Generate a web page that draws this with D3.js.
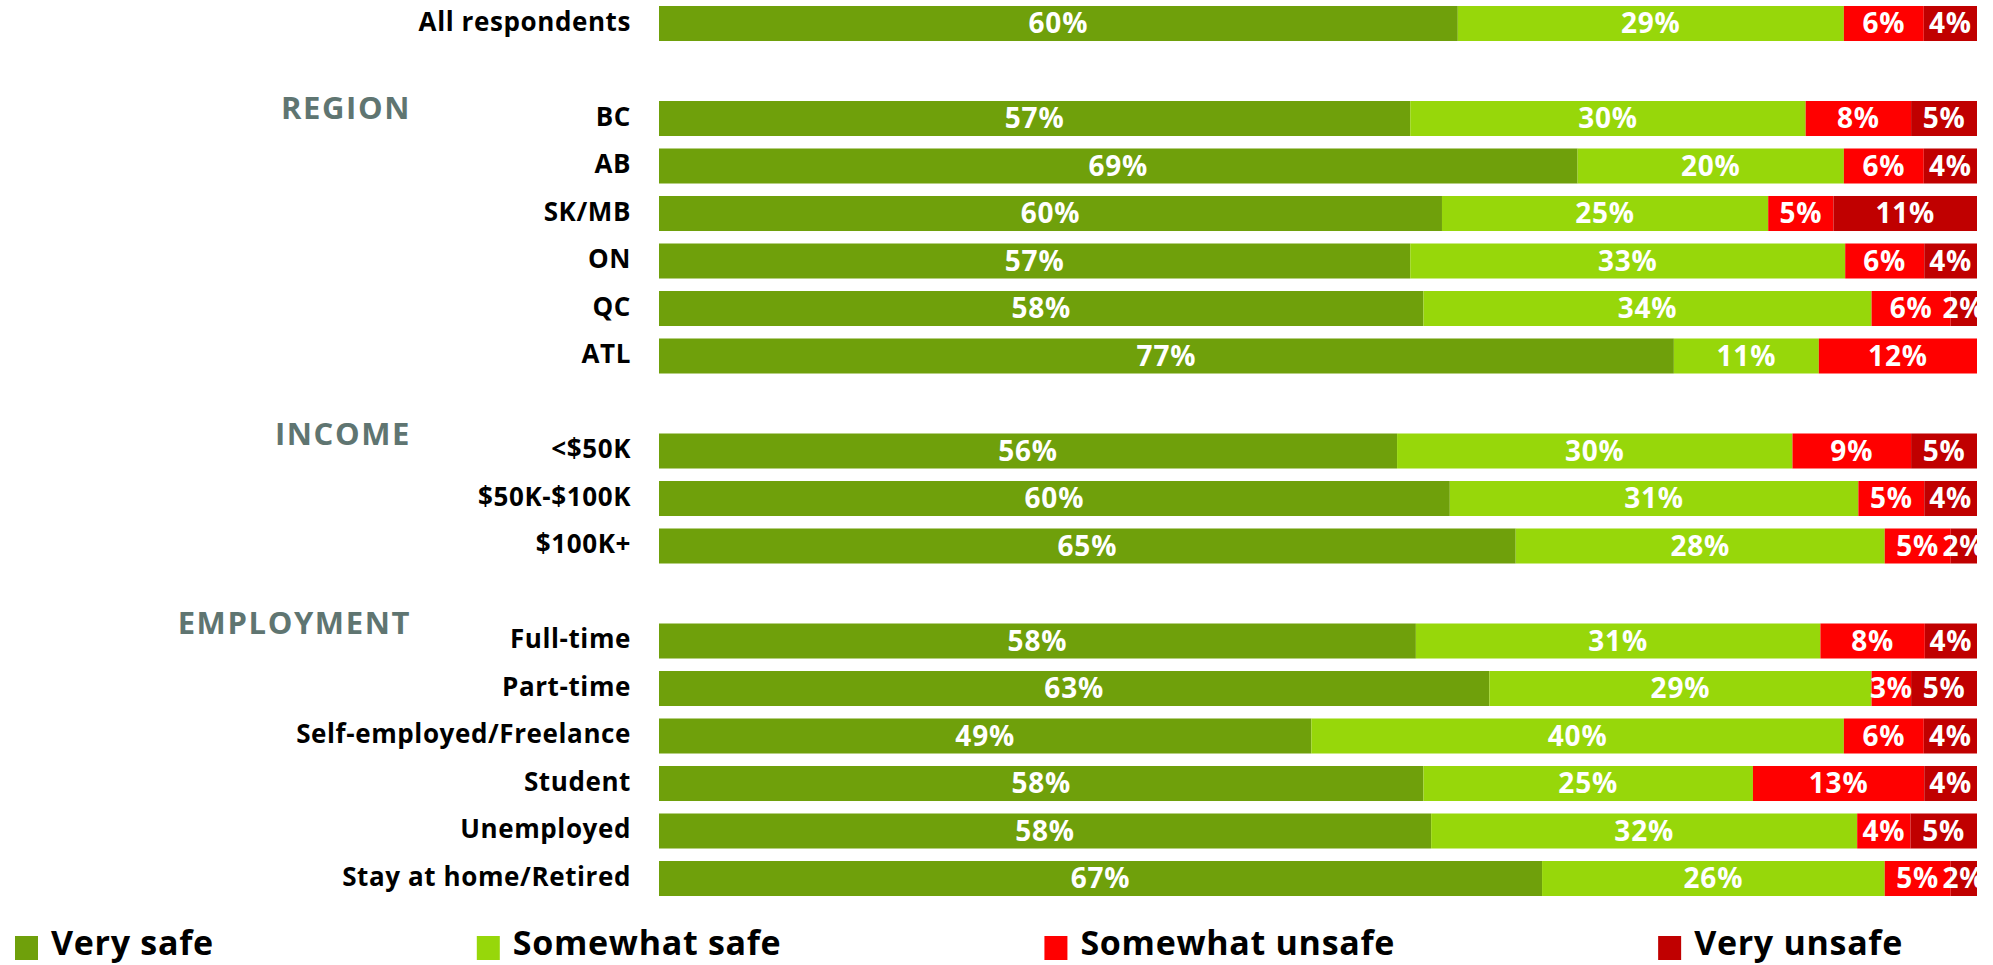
<!DOCTYPE html>
<html>
<head>
<meta charset="utf-8">
<script src="https://cdn.jsdelivr.net/npm/d3@7/dist/d3.min.js"></script>
<style>
  html, body { margin: 0; padding: 0; background: #ffffff; }
  svg { display: block; font-family: "Open Sans", "DejaVu Sans", sans-serif; }
</style>
</head>
<body>
<svg id="chart" width="1993" height="965"></svg>
<script>
// ---------- data ----------
const categories = [
  "All respondents",
  "BC", "AB", "SK/MB", "ON", "QC", "ATL",
  "<$50K", "$50K-$100K", "$100K+",
  "Full-time", "Part-time", "Self-employed/Freelance", "Student", "Unemployed", "Stay at home/Retired"
];
const verySafe       = [60, 57, 69, 60, 57, 58, 77, 56, 60, 65, 58, 63, 49, 58, 58, 67];
const somewhatSafe   = [29, 30, 20, 25, 33, 34, 11, 30, 31, 28, 31, 29, 40, 25, 32, 26];
const somewhatUnsafe = [ 6,  8,  6,  5,  6,  6, 12,  9,  5,  5,  8,  3,  6, 13,  4,  5];
const veryUnsafe     = [ 4,  5,  4, 11,  4,  2,  0,  5,  4,  2,  4,  5,  4,  4,  5,  2];
const seriesNames = ["Very safe", "Somewhat safe", "Somewhat unsafe", "Very unsafe"];
const seriesColors = ["#6fa00b", "#97d70a", "#ff0000", "#c00000"];
const groupHeaders = ["REGION", "INCOME", "EMPLOYMENT"];
const groupFirstRow = ["BC", "<$50K", "Full-time"];
// row layout order (gaps separate the groups)
const layoutOrder = [
  "All respondents", "_gap1",
  "BC", "AB", "SK/MB", "ON", "QC", "ATL", "_gap2",
  "<$50K", "$50K-$100K", "$100K+", "_gap3",
  "Full-time", "Part-time", "Self-employed/Freelance", "Student", "Unemployed", "Stay at home/Retired"
];

// ---------- build table ----------
const keys = ["vs", "ss", "su", "vu"];
const table = categories.map((c, i) => ({
  cat: c, vs: verySafe[i], ss: somewhatSafe[i], su: somewhatUnsafe[i], vu: veryUnsafe[i]
}));

const svg = d3.select("#chart");

const x = d3.scaleLinear().domain([0, 1]).range([659, 1977]);
const y = d3.scaleBand().domain(layoutOrder).range([-0.25, 902.25])
  .paddingInner(0.263).paddingOuter(0.1315);

const stack = d3.stack().keys(keys).offset(d3.stackOffsetExpand);
const stacked = stack(table);

svg.append("defs").append("clipPath").attr("id", "plotclip")
  .append("rect").attr("x", x(0)).attr("y", 0).attr("width", x(1) - x(0)).attr("height", 965);

const layers = svg.append("g").selectAll("g.layer")
  .data(stacked).join("g")
  .attr("class", "layer")
  .attr("fill", (d, i) => seriesColors[i]);

layers.selectAll("rect")
  .data(d => d.map(p => ({ p, key: d.key })))
  .join("rect")
  .attr("x", d => x(d.p[0]))
  .attr("y", d => y(d.p.data.cat))
  .attr("width", d => Math.max(0, x(d.p[1]) - x(d.p[0])))
  .attr("height", y.bandwidth());

// value labels
const labelG = svg.append("g").attr("clip-path", "url(#plotclip)");
stacked.forEach(layer => {
  layer.forEach(p => {
    const v = p.data[layer.key];
    if (!v) return;
    labelG.append("text")
      .attr("x", (x(p[0]) + x(p[1])) / 2)
      .attr("y", y(p.data.cat) + y.bandwidth() / 2 + 9.5)
      .attr("text-anchor", "middle")
      .attr("fill", "#ffffff")
      .attr("font-weight", 700)
      .attr("font-size", 28)
      .attr("letter-spacing", 0.8)
      .text(v + "%");
  });
});

// category labels
svg.append("g").selectAll("text")
  .data(categories).join("text")
  .attr("x", 631)
  .attr("y", d => y(d) + y.bandwidth() / 2 + 7)
  .attr("text-anchor", "end")
  .attr("fill", "#000000")
  .attr("font-weight", 700)
  .attr("font-size", 26)
  .attr("letter-spacing", 0.6)
  .text(d => d);

// group headers
const headerDy = [0, -6.5, -7.5];
svg.append("g").selectAll("text")
  .data(groupHeaders).join("text")
  .attr("x", 411)
  .attr("y", (d, i) => y(groupFirstRow[i]) + y.bandwidth() / 2 + headerDy[i])
  .attr("text-anchor", "end")
  .attr("fill", "#5f7571")
  .attr("font-weight", 700)
  .attr("font-size", 31)
  .attr("letter-spacing", 1.6)
  .text(d => d);

// legend
const legend = svg.append("g");
let lx = 15;
seriesNames.forEach((name, i) => {
  legend.append("rect")
    .attr("x", lx).attr("y", 936).attr("width", 23).attr("height", 24)
    .attr("fill", seriesColors[i]);
  const t = legend.append("text")
    .attr("x", lx + 36).attr("y", 955)
    .attr("fill", "#000000")
    .attr("font-weight", 700)
    .attr("font-size", 34)
    .attr("letter-spacing", 0.7)
    .text(name);
  const w = t.node().getComputedTextLength();
  lx = lx + 36 + w + 263;
});
</script>
</body>
</html>
